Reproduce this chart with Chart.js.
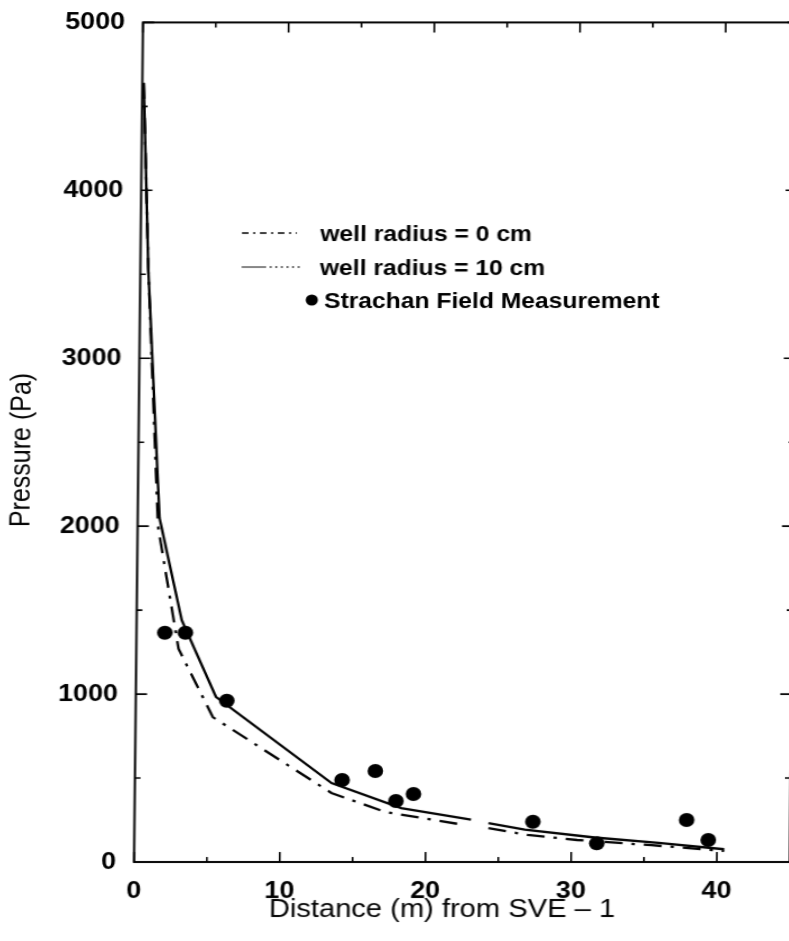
<!DOCTYPE html>
<html>
<head>
<meta charset="utf-8">
<title>Pressure vs distance from SVE-1</title>
<script src="https://cdn.jsdelivr.net/npm/chart.js@4.4.1/dist/chart.umd.min.js"></script>
<style>
  html, body { margin: 0; padding: 0; background: #fff; overflow: hidden; width: 789px; height: 941px; }
  /* the plot is a little wider than tall-font proportions and leans slightly */
  #wrap { position: absolute; left: 0; top: 0; width: 712px; height: 941px;
          transform-origin: 0 0; transform: matrix(1.12, 0, -0.01065, 1, 9.19, 0); }
</style>
</head>
<body>
<div id="wrap"><canvas id="chart" width="712" height="941"></canvas></div>
<script>
// Model curves (distance in m, pressure in Pa); null marks the break in the plotted curve
const r0X = [0.1, 0.55, 1.4, 2.9, 5.3, 13.5, 17.2, 22.7, 23.5, 24.3, 27.0, 30.4, 35.5, 40.5];
const r0Y = [4640, 3530, 2000, 1270, 863, 411, 298, 220, null, 202, 161, 131, 100, 66];

const r10X = [0.1, 0.55, 1.5, 3.1, 5.5, 13.5, 18.3, 23.1, 23.7, 24.3, 26.8, 31.6, 36.0, 40.5];
const r10Y = [4640, 3530, 2048, 1440, 984, 470, 321, 253, null, 232, 193, 146, 114, 76];

// Strachan field measurements
const fieldX = [1.95, 3.36, 6.25, 14.22, 16.5, 17.93, 19.13, 27.35, 31.75, 37.9, 39.4];
const fieldY = [1365, 1365, 960, 488, 542, 363, 405, 240, 111, 250, 131];

const xTicks = [0, 10, 20, 30, 40];
const yTicks = [0, 1000, 2000, 3000, 4000, 5000];
const xMinorStep = 5;
const yMinorStep = 500;

const FONT = "'Liberation Sans', Arial, Helvetica, sans-serif";
const DASH_DOT = [16, 8, 3, 8];

function pts(xs, ys) {
  return xs.map((x, i) => ({ x: x, y: ys[i] }));
}

// frame with inward ticks, legend and axis titles
const framePlugin = {
  id: 'frame',
  afterDraw(chart) {
    const { ctx, chartArea: a, scales } = chart;
    const x = scales.x, y = scales.y;
    ctx.save();
    ctx.strokeStyle = '#000';
    ctx.lineWidth = 2;
    ctx.strokeRect(a.left, a.top, a.right - a.left, a.bottom - a.top);

    ctx.lineWidth = 1.6;
    ctx.beginPath();
    for (let v = x.min; v <= x.max + 1e-9; v += xMinorStep) {
      const px = x.getPixelForValue(v);
      const len = v % 10 === 0 ? 10 : 5;
      ctx.moveTo(px, a.bottom); ctx.lineTo(px, a.bottom - len);
      ctx.moveTo(px, a.top); ctx.lineTo(px, a.top + len);
    }
    for (let v = y.min; v <= y.max + 1e-9; v += yMinorStep) {
      const py = y.getPixelForValue(v);
      const len = v % 1000 === 0 ? 10 : 5;
      ctx.moveTo(a.left, py); ctx.lineTo(a.left + len, py);
      ctx.moveTo(a.right, py); ctx.lineTo(a.right - len, py);
    }
    ctx.stroke();

    // legend
    ctx.fillStyle = '#000';
    ctx.lineWidth = 1.3;
    ctx.setLineDash([6, 4, 2, 4]);
    ctx.beginPath(); ctx.moveTo(210, 233); ctx.lineTo(259, 233); ctx.stroke();
    ctx.setLineDash([]);
    ctx.strokeStyle = '#444';
    ctx.beginPath(); ctx.moveTo(210, 267); ctx.lineTo(232, 267); ctx.stroke();
    ctx.setLineDash([2, 3]);
    ctx.beginPath(); ctx.moveTo(235, 267); ctx.lineTo(262, 267); ctx.stroke();
    ctx.setLineDash([]);
    ctx.beginPath(); ctx.arc(273, 300, 5.5, 0, Math.PI * 2); ctx.fill();

    ctx.font = 'bold 22px ' + FONT;
    ctx.textAlign = 'left';
    ctx.textBaseline = 'alphabetic';
    ctx.fillText(chart.data.datasets[0].label, 280, 241);
    ctx.fillText(chart.data.datasets[1].label, 280, 275);
    ctx.fillText(chart.data.datasets[2].label, 284, 308);

    // axis titles
    ctx.textAlign = 'center';
    ctx.textBaseline = 'middle';
    ctx.font = '26px ' + FONT;
    ctx.fillText('Distance (m) from SVE \u2013 1', 395, 910);
    ctx.save();
    ctx.translate(15.7, 450);
    ctx.rotate(-Math.PI / 2);
    ctx.font = '25px ' + FONT;
    ctx.fillText('Pressure (Pa)', 0, 0);
    ctx.restore();
    ctx.restore();
  }
};

const ctx = document.getElementById('chart').getContext('2d');
new Chart(ctx, {
  type: 'scatter',
  data: {
    datasets: [
      {
        type: 'line',
        label: 'well radius = 0 cm',
        data: pts(r0X, r0Y),
        borderColor: '#000',
        borderWidth: 2.3,
        borderDash: DASH_DOT,
        pointRadius: 0,
        fill: false,
        tension: 0,
        spanGaps: false
      },
      {
        type: 'line',
        label: 'well radius = 10 cm',
        data: pts(r10X, r10Y),
        borderColor: '#000',
        borderWidth: 2.3,
        pointRadius: 0,
        fill: false,
        tension: 0,
        spanGaps: false
      },
      {
        label: 'Strachan Field Measurement',
        data: pts(fieldX, fieldY),
        pointRadius: 7,
        pointBackgroundColor: '#000',
        pointBorderWidth: 0
      }
    ]
  },
  options: {
    responsive: false,
    animation: false,
    devicePixelRatio: 1,
    layout: { padding: { top: 22, right: 3.8, bottom: 0, left: 0 } },
    plugins: {
      legend: { display: false },
      tooltip: { enabled: false }
    },
    scales: {
      x: {
        type: 'linear',
        min: 0,
        max: 45,
        afterBuildTicks: s => { s.ticks = xTicks.map(v => ({ value: v })); },
        afterFit: s => { s.height = 79; },
        grid: { display: false },
        border: { display: false },
        ticks: {
          color: '#000',
          padding: 7,
          maxRotation: 0,
          callback: v => String(v),
          font: { family: FONT, size: 24, weight: 'bold' }
        }
      },
      y: {
        type: 'linear',
        min: 0,
        max: 5000,
        afterBuildTicks: s => { s.ticks = yTicks.map(v => ({ value: v })); },
        afterFit: s => { s.width = 119.64; },
        grid: { display: false },
        border: { display: false },
        ticks: {
          color: '#000',
          padding: 8,
          callback: v => String(v),
          font: { family: FONT, size: 24, weight: 'bold' }
        }
      }
    }
  },
  plugins: [framePlugin]
});
</script>
</body>
</html>
